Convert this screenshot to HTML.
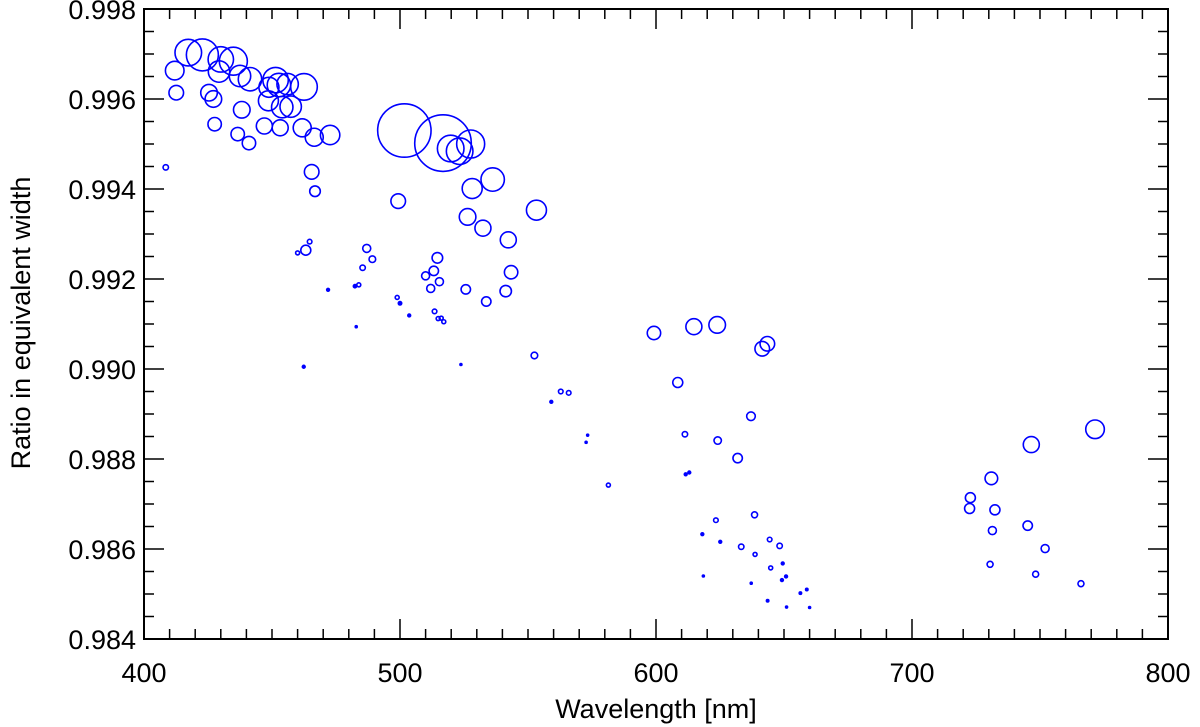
<!DOCTYPE html>
<html><head><meta charset="utf-8"><style>
html,body{margin:0;padding:0;background:#fff;}
svg{display:block;font-family:"Liberation Sans",sans-serif;}
</style></head><body>
<svg id="chart" width="1200" height="727"></svg>
<script>
const wavelengths=[417.3,422.8,430.0,434.9,412.0,429.3,437.5,441.4,451.4,452.7,456.1,448.8,462.5,412.6,425.4,427.1,448.6,454.0,457.3,438.2,427.6,447.0,453.2,461.8,436.6,466.5,472.7,441.0,501.7,516.8,519.8,523.3,527.6,408.5,465.5,466.8,528.2,536.2,499.3,526.4,532.4,542.3,553.3,
464.7,463.2,460.0,487.0,489.2,485.4,471.9,482.4,483.9,514.6,513.2,510.0,515.4,512.0,525.7,533.7,541.3,543.4,498.9,500.0,503.6,482.9,513.5,514.9,516.1,517.1,462.4,523.8,552.5,562.8,565.9,559.1,573.3,572.7,581.4,
599.2,614.8,623.9,643.5,641.5,608.5,637.1,611.3,624.1,631.9,613.0,611.6,638.5,623.4,618.1,625.1,644.4,633.3,648.3,638.7,644.8,649.5,650.8,649.2,618.5,637.2,658.9,656.4,643.6,651.0,660.0,
771.5,746.6,731.0,722.8,722.5,732.4,731.4,745.2,752.0,730.5,748.3,766.0];
const ratios=[0.99703,0.99698,0.99688,0.99684,0.99663,0.99661,0.99651,0.99644,0.99642,0.99631,0.99633,0.99626,0.99627,0.99614,0.99614,0.99600,0.99596,0.99582,0.99583,0.99576,0.99544,0.99540,0.99536,0.99536,0.99522,0.99515,0.99520,0.99502,0.99530,0.99502,0.99490,0.99484,0.99500,0.99448,0.99438,0.99395,0.99401,0.99421,0.99373,0.99338,0.99313,0.99287,0.99353,
0.99283,0.99264,0.99258,0.99268,0.99244,0.99225,0.99176,0.99184,0.99187,0.99247,0.99218,0.99207,0.99194,0.99179,0.99177,0.99150,0.99173,0.99215,0.99159,0.99146,0.99119,0.99094,0.99128,0.99112,0.99113,0.99105,0.99005,0.99010,0.99030,0.98950,0.98947,0.98927,0.98853,0.98837,0.98742,
0.99080,0.99094,0.99098,0.99056,0.99045,0.98970,0.98895,0.98855,0.98841,0.98802,0.98770,0.98766,0.98676,0.98664,0.98633,0.98616,0.98621,0.98605,0.98607,0.98588,0.98558,0.98568,0.98539,0.98531,0.98540,0.98524,0.98510,0.98502,0.98485,0.98471,0.98470,
0.98866,0.98832,0.98757,0.98714,0.98690,0.98687,0.98641,0.98652,0.98601,0.98566,0.98544,0.98523];
const sizes=[13.3,16,12.7,14,9.3,10.7,10.7,11.7,12.7,11.7,10.7,10,13.3,7.3,8.3,8.3,10,10.7,10.7,8.3,6.7,8,8,9,6.7,9,9.7,6.7,26.7,28.3,13.3,13.3,14,2.7,7.3,5.3,10,11.7,7.3,8.3,8,8,10,
2.3,5,2,4,3.3,2.7,1.4,1.6,2,5.3,4.7,4,4,4,4.7,4.7,5.7,6.7,2,1.7,1.4,1,2.3,2,2,2,1.4,1,3.3,2.3,2.3,1.4,1,1,2,
6.7,8,8.3,7.3,7.3,5,4.3,2.7,3.7,4.7,1.4,1.4,3,2.3,1.4,1.4,2.3,2.7,2.7,2,2,1.4,1.4,1.4,1,1,1.2,1.2,1.2,1,1,
9.3,8,6.3,5,5,5,4,4.7,4,3,3,3];
const xTicks=[400,500,600,700,800];
const yTicks=[0.984,0.986,0.988,0.990,0.992,0.994,0.996,0.998];

const L=144,R=1168,T=9,B=639;
const xMin=400,xMax=800,yMin=0.984,yMax=0.998;
const sx=v=>L+(v-xMin)/(xMax-xMin)*(R-L);
const sy=v=>B-(v-yMin)/(yMax-yMin)*(B-T);
const NS="http://www.w3.org/2000/svg";
const svg=document.getElementById('chart');
function mk(tag,attrs,parent){const e=document.createElementNS(NS,tag);for(const k in attrs)e.setAttribute(k,attrs[k]);(parent||svg).appendChild(e);return e;}

const pts=mk('g',{});


for(let i=0;i<wavelengths.length;i++){
  const c=mk('circle',{cx:sx(wavelengths[i]),cy:sy(ratios[i]),r:sizes[i],fill:sizes[i]<1.8?'#0000ff':'none',stroke:'#0000ff','stroke-width':1.6},pts);
  
  
}

const frame=mk('rect',{x:L,y:T,width:R-L,height:B-T,fill:'none',stroke:'#000','stroke-width':2});



const xa=mk('g',{});


for(let v=xMin;v<=xMax;v+=10){
  const major=(v%100===0);const len=major?20:10;const x=sx(v);
  mk('line',{x1:x,y1:B,x2:x,y2:B-len,stroke:'#000','stroke-width':1.5},xa);
  mk('line',{x1:x,y1:T,x2:x,y2:T+len,stroke:'#000','stroke-width':1.5},xa);
}
xTicks.forEach(v=>{
  const t=mk('text',{x:sx(v),y:682,'text-anchor':'middle','font-size':27},xa);
  t.textContent=v;
  
  
});
const xt=mk('text',{x:656,y:718,'text-anchor':'middle','font-size':27},xa);
xt.textContent='Wavelength [nm]';



const ya=mk('g',{});


for(let k=0;k<=28;k++){
  const v=yMin+k*0.0005;const major=(k%4===0);const len=major?20:10;const y=sy(v);
  mk('line',{x1:L,y1:y,x2:L+len,y2:y,stroke:'#000','stroke-width':1.5},ya);
  mk('line',{x1:R,y1:y,x2:R-len,y2:y,stroke:'#000','stroke-width':1.5},ya);
}
yTicks.forEach(v=>{
  const t=mk('text',{x:136,y:sy(v)+10,'text-anchor':'end','font-size':27},ya);
  t.textContent=v.toFixed(3);
  
  
});
const yt=mk('text',{x:0,y:0,'text-anchor':'middle','font-size':27,transform:'translate(30,323) rotate(-90)'},ya);
yt.textContent='Ratio in equivalent width';


</script>
</body></html>
